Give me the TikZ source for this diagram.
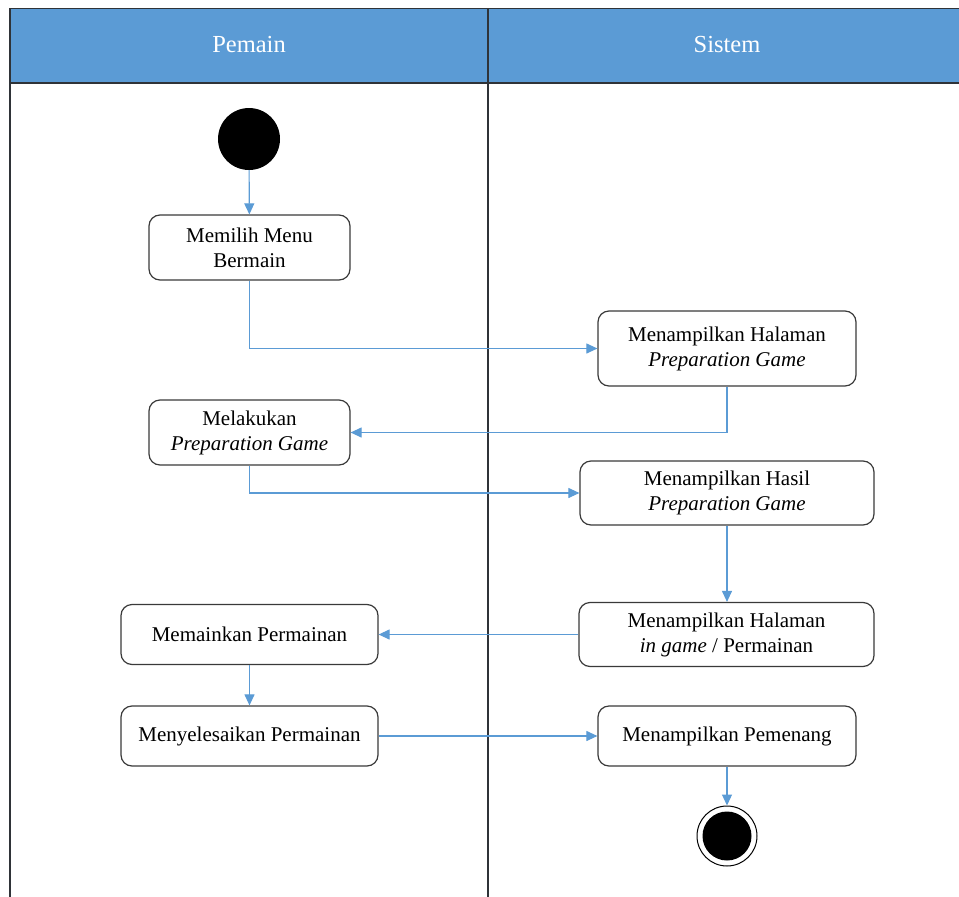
\documentclass[tikz,border=0pt]{standalone}
\usepackage{fontspec}
\setmainfont{Liberation Serif}
\usetikzlibrary{arrows.meta}
\definecolor{lanehead}{HTML}{5B9BD5}
\definecolor{flowblue}{HTML}{5B9BD5}
\definecolor{lanegray}{HTML}{2F3338}
\definecolor{boxgray}{HTML}{3A3A3A}
\begin{document}
\begin{tikzpicture}[x=1pt,y=-1pt,
  action/.style={draw=boxgray,line width=1.2pt,rounded corners=11pt,fill=white,
    align=center,inner sep=0pt,font=\fontsize{21}{25}\selectfont},
  flow/.style={draw=flowblue,line width=1.1pt,-{Triangle[length=11pt,width=10pt]}},
  lanetitle/.style={text=white,font=\fontsize{24.5}{28}\selectfont}]
  \useasboundingbox (0,0) rectangle (959,897);
  % swimlane header and borders
  \fill[lanehead] (10,8) rectangle (962,83);
  \draw[lanegray,line width=0.8pt] (10,8) -- (962,8);
  \draw[lanegray,line width=1.6pt] (10,83) -- (962,83);
  \draw[lanegray,line width=1.6pt] (10,8) -- (10,897);
  \draw[lanegray,line width=1.6pt] (488,8) -- (488,897);
  \node[lanetitle] (lanePemain) at (249,45) {Pemain};
  \node[lanetitle] (laneSistem) at (727,45) {Sistem};
  % start and end
  \node[circle,fill=black,minimum size=62pt,inner sep=0pt] (start) at (249,139) {};
  \node[circle,draw=black,line width=1pt,fill=white,minimum size=60pt,inner sep=0pt] (stop) at (727,836) {};
  \node[circle,fill=black,minimum size=49pt,inner sep=0pt] (stopdot) at (stop.center) {};
  % actions
  \node[action,minimum width=201pt,minimum height=65pt] (pilih) at (249.5,247.5) {Memilih Menu\\Bermain};
  \node[action,minimum width=258pt,minimum height=75pt] (halprep) at (727,348.5) {Menampilkan Halaman\\\textit{Preparation Game}};
  \node[action,minimum width=201pt,minimum height=65pt] (prep) at (249.5,432.5) {Melakukan\\\textit{Preparation Game}};
  \node[action,minimum width=294pt,minimum height=64pt] (hasil) at (727,493) {Menampilkan Hasil\\\textit{Preparation Game}};
  \node[action,minimum width=295pt,minimum height=64pt] (ingame) at (726.5,634.5) {Menampilkan Halaman\\\textit{in game} / Permainan};
  \node[action,minimum width=257pt,minimum height=60pt] (main) at (249.5,634.5) {Memainkan Permainan};
  \node[action,minimum width=257pt,minimum height=60pt] (selesai) at (249.5,736) {Menyelesaikan Permainan};
  \node[action,minimum width=258pt,minimum height=60pt] (menang) at (727,736) {Menampilkan Pemenang};
  % control flow
  \draw[flow] (start) -- (pilih);
  \draw[flow] (pilih.south) |- (halprep.west);
  \draw[flow] (halprep.south) |- (prep.east);
  \draw[flow] (prep.south) |- (hasil.west);
  \draw[flow] (hasil.south) -- (hasil.south |- ingame.north);
  \draw[flow] (ingame.west) -- (main.east);
  \draw[flow] (main) -- (selesai);
  \draw[flow] (selesai) -- (menang);
  \draw[flow] (menang) -- (stop);
\end{tikzpicture}
\end{document}
